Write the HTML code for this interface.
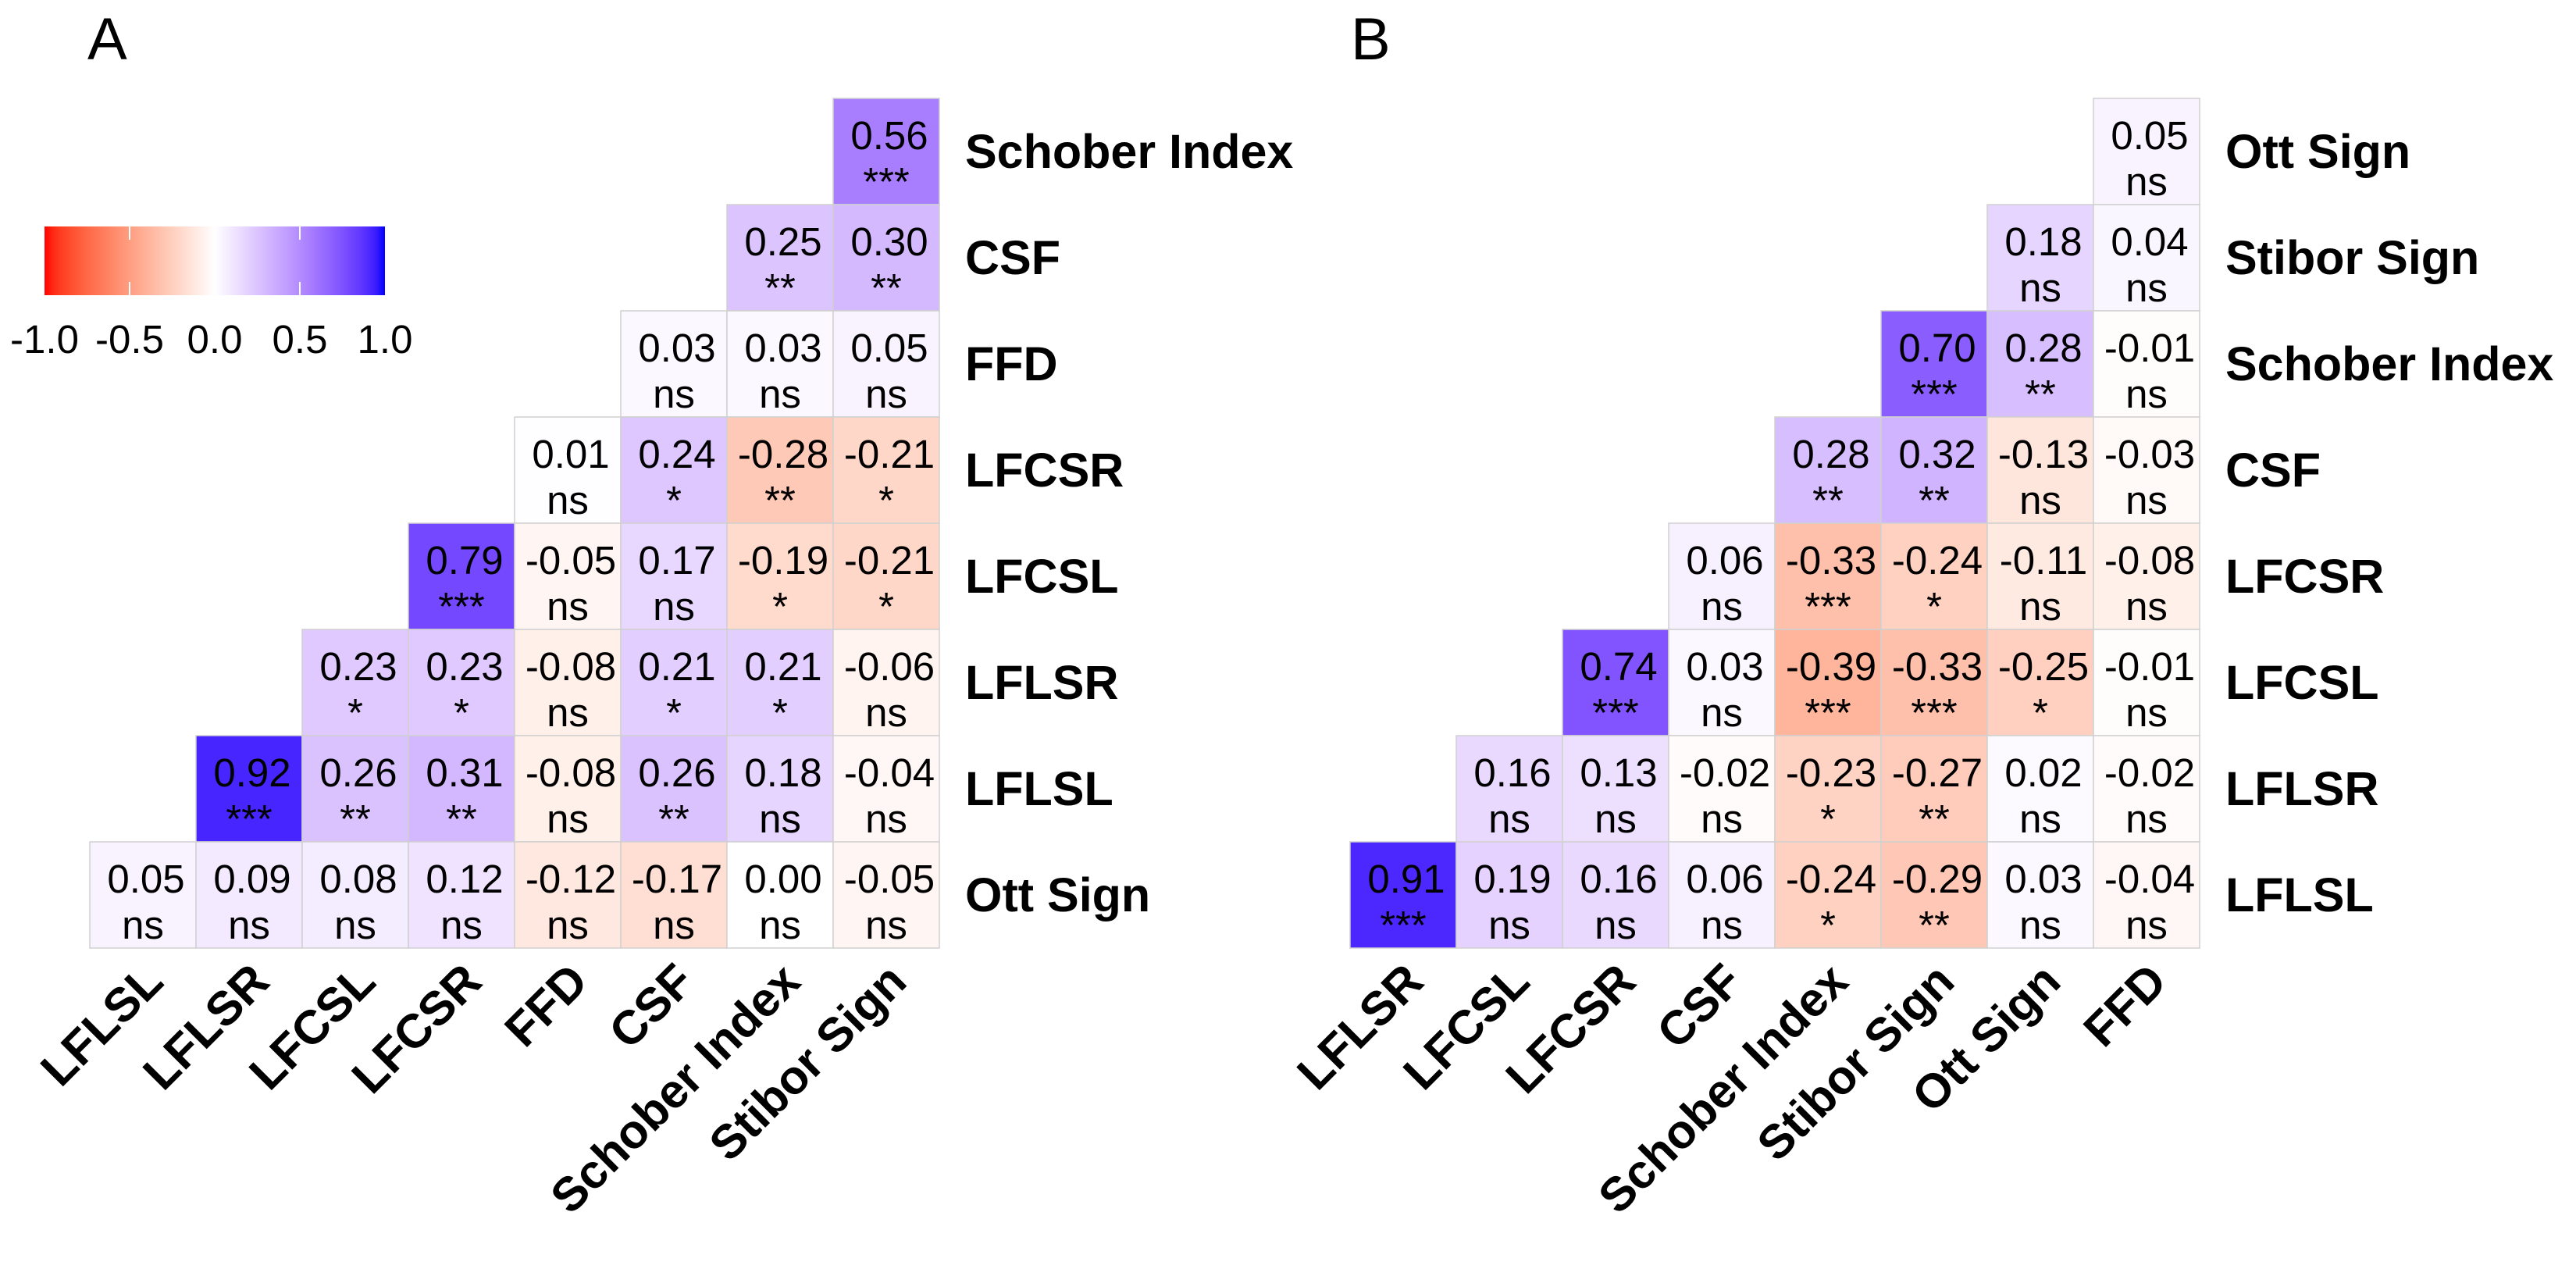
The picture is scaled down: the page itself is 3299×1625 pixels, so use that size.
<!DOCTYPE html>
<html><head><meta charset="utf-8"><style>
html,body{margin:0;padding:0;background:#fff;}
svg{display:block;font-family:"Liberation Sans",sans-serif;}
</style></head><body>
<svg id="chart" width="3299" height="1625" viewBox="0 0 3299 1625" xmlns="http://www.w3.org/2000/svg">
<defs><linearGradient id="cbar" x1="0" x2="1" y1="0" y2="0"></linearGradient></defs>
<text x="112" y="76" font-size="76">A</text>
<text x="1730" y="76" font-size="76">B</text>
<g id="legend">
<rect x="57" y="290" width="436" height="88" fill="url(#cbar)"/>
</g>
<g id="pa"></g>
<g id="pb"></g>
</svg>
<script>
const rowsA=["Schober Index","CSF","FFD","LFCSR","LFCSL","LFLSR","LFLSL","Ott Sign"];
const colsA=["LFLSL","LFLSR","LFCSL","LFCSR","FFD","CSF","Schober Index","Stibor Sign"];
const valsA=[[0.56],[0.25,0.30],[0.03,0.03,0.05],[0.01,0.24,-0.28,-0.21],[0.79,-0.05,0.17,-0.19,-0.21],[0.23,0.23,-0.08,0.21,0.21,-0.06],[0.92,0.26,0.31,-0.08,0.26,0.18,-0.04],[0.05,0.09,0.08,0.12,-0.12,-0.17,0.00,-0.05]];
const sigA=[["***"],["**","**"],["ns","ns","ns"],["ns","*","**","*"],["***","ns","ns","*","*"],["*","*","ns","*","*","ns"],["***","**","**","ns","**","ns","ns"],["ns","ns","ns","ns","ns","ns","ns","ns"]];
const rowsB=["Ott Sign","Stibor Sign","Schober Index","CSF","LFCSR","LFCSL","LFLSR","LFLSL"];
const colsB=["LFLSR","LFCSL","LFCSR","CSF","Schober Index","Stibor Sign","Ott Sign","FFD"];
const valsB=[[0.05],[0.18,0.04],[0.70,0.28,-0.01],[0.28,0.32,-0.13,-0.03],[0.06,-0.33,-0.24,-0.11,-0.08],[0.74,0.03,-0.39,-0.33,-0.25,-0.01],[0.16,0.13,-0.02,-0.23,-0.27,0.02,-0.02],[0.91,0.19,0.16,0.06,-0.24,-0.29,0.03,-0.04]];
const sigB=[["ns"],["ns","ns"],["***","**","ns"],["**","**","ns","ns"],["ns","***","*","ns","ns"],["***","ns","***","***","*","ns"],["ns","ns","ns","*","**","ns","ns"],["***","ns","ns","ns","*","**","ns","ns"]];
const legendTicks=[-1.0,-0.5,0.0,0.5,1.0];

const NS="http://www.w3.org/2000/svg";
function mk(tag,attrs,parent){const e=document.createElementNS(NS,tag);for(const k in attrs)e.setAttribute(k,attrs[k]);parent.appendChild(e);return e;}
function srgbToLin(c){c/=255;return c<=0.04045?c/12.92:Math.pow((c+0.055)/1.055,2.4);}
function linToSrgb(c){c=Math.max(0,Math.min(1,c));return Math.round(255*(c<=0.0031308?12.92*c:1.055*Math.pow(c,1/2.4)-0.055));}
function toLab(r,g,b){r=srgbToLin(r);g=srgbToLin(g);b=srgbToLin(b);
 let x=(0.4124*r+0.3576*g+0.1805*b)/0.95047,y=0.2126*r+0.7152*g+0.0722*b,z=(0.0193*r+0.1192*g+0.9505*b)/1.08883;
 const f=t=>t>0.008856?Math.cbrt(t):7.787*t+16/116;x=f(x);y=f(y);z=f(z);return [116*y-16,500*(x-y),200*(y-z)];}
function fromLab(L,a,b){let y=(L+16)/116,x=a/500+y,z=y-b/200;const fi=t=>t*t*t>0.008856?t*t*t:(t-16/116)/7.787;
 x=fi(x)*0.95047;y=fi(y);z=fi(z)*1.08883;
 const r=3.2406*x-1.5372*y-0.4986*z,g=-0.9689*x+1.8758*y+0.0415*z,bb=0.0557*x-0.2040*y+1.0570*z;
 return "rgb("+linToSrgb(r)+","+linToSrgb(g)+","+linToSrgb(bb)+")";}
const W=toLab(255,255,255),R=toLab(255,0,0),B=toLab(0,0,255);
function col(v){const t=Math.abs(v),T=v<0?R:B;return fromLab(W[0]+(T[0]-W[0])*t,W[1]+(T[1]-W[1])*t,W[2]+(T[2]-W[2])*t);}
const grad=document.getElementById("cbar");
for(let i=0;i<=40;i++){const v=-1+i/20;mk("stop",{offset:(i/40),"stop-color":col(v)},grad);}
const lg=document.getElementById("legend");
const lx=v=>57+(v+1)/2*436;
legendTicks.forEach(v=>{
 if(Math.abs(v)===0.5){mk("line",{x1:lx(v),x2:lx(v),y1:290,y2:307,stroke:"#fff","stroke-width":2},lg);mk("line",{x1:lx(v),x2:lx(v),y1:361,y2:378,stroke:"#fff","stroke-width":2},lg);}
 const t=mk("text",{x:lx(v),y:452,"font-size":51,"text-anchor":"middle"},lg);
 
 
 t.textContent=v.toFixed(1);
});
const CS=136,TOP=126;
function panel(g,left,rows,cols,vals,sig){
 const xs=c=>left+c*CS, ys=r=>TOP+r*CS;
 rows.forEach((rn,r)=>{
  const start=8-vals[r].length;
  vals[r].forEach((v,i)=>{
   const c=start+i;
   const rect=mk("rect",{x:xs(c),y:ys(r),width:CS,height:CS,fill:col(v),stroke:"#d0d0d0","stroke-width":1.5},g);
   
   
   const t=mk("text",{x:xs(c)+CS/2+4,y:ys(r)+65,"font-size":51,"text-anchor":"middle"},g);
   
   
   t.textContent=v.toFixed(2);
   const s=mk("text",{x:xs(c)+CS/2,y:ys(r)+124,"font-size":51,"text-anchor":"middle"},g);
   
   
   s.textContent=sig[r][i];
  });
  const l=mk("text",{x:left+8*CS+33,y:ys(r)+CS/2+21,"font-size":61,"font-weight":"bold"},g);
  
  
  l.textContent=rn;
 });
 cols.forEach((cn,c)=>{
  const x=xs(c)+CS/2+29,y=TOP+8*CS+46;
  const l=mk("text",{x:x,y:y,"font-size":61,"font-weight":"bold","text-anchor":"end",transform:"rotate(-45 "+x+" "+y+")"},g);
  
  
  l.textContent=cn;
 });
}
panel(document.getElementById("pa"),115,rowsA,colsA,valsA,sigA);
panel(document.getElementById("pb"),1729,rowsB,colsB,valsB,sigB);
</script>
</body></html>
